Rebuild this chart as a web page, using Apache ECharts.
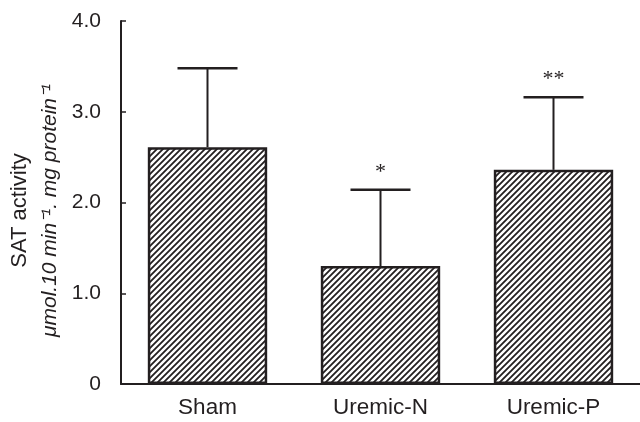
<!DOCTYPE html>
<html>
<head>
<meta charset="utf-8">
<script src="https://cdn.jsdelivr.net/npm/echarts@6/dist/echarts.min.js"></script>
<style>
html,body{margin:0;padding:0;background:#fff}
#main{width:640px;height:422px}
</style>
</head>
<body>
<div id="main"></div>
<script>
var groups = ['Sham', 'Uremic-N', 'Uremic-P'];
var means = [2.61, 1.30, 2.36];
var upperErr = [3.48, 2.14, 3.16];
var marks = ['', '*', '**'];

var ink = '#231f20';

// diagonal hatch pattern
function hatch() {
  var c = document.createElement('canvas');
  var s = 6;
  c.width = s; c.height = s;
  var g = c.getContext('2d');
  g.fillStyle = '#fff';
  g.fillRect(0, 0, s, s);
  g.strokeStyle = ink;
  g.lineWidth = 1.8;
  g.beginPath();
  g.moveTo(-1, s + 1); g.lineTo(s + 1, -1);
  g.moveTo(-1, 1); g.lineTo(1, -1);
  g.moveTo(s - 1, s + 1); g.lineTo(s + 1, s - 1);
  g.stroke();
  return c;
}

var chart = echarts.init(document.getElementById('main'), null, {renderer: 'canvas'});

var errData = [];
for (var i = 0; i < groups.length; i++) {
  errData.push([i, means[i], upperErr[i], marks[i]]);
}

var option = {
  animation: false,
  backgroundColor: '#fff',
  grid: {left: 121, right: 0, top: 21, bottom: 38},
  xAxis: {
    type: 'category',
    data: groups,
    axisLine: {lineStyle: {color: ink, width: 2}},
    axisTick: {show: false},
    axisLabel: {color: ink, fontSize: 22.5, fontFamily: 'Liberation Sans', margin: 12}
  },
  yAxis: {
    type: 'value',
    min: 0,
    max: 4,
    interval: 1,
    axisLine: {show: true, lineStyle: {color: ink, width: 2}},
    axisTick: {show: true, inside: true, length: 5, lineStyle: {color: ink, width: 1.5}},
    splitLine: {show: false},
    axisLabel: {
      color: ink, fontSize: 21, fontFamily: 'Liberation Sans', margin: 20,
      formatter: function (v) { return v === 0 ? '0' : v.toFixed(1); }
    },
    name: '{a|SAT activity}\n{b|\u03bcmol.10 min\u207b\u00b9. mg protein\u207b\u00b9}',
    nameLocation: 'middle',
    nameGap: 50,
    nameTextStyle: {
      padding: [0, 16, 0, 0],
      rich: {
        a: {fontSize: 22, fontFamily: 'Liberation Sans', color: ink, lineHeight: 30},
        b: {fontSize: 21, fontStyle: 'italic', fontFamily: 'Liberation Sans', color: ink, lineHeight: 30}
      }
    }
  },
  series: [
    {
      type: 'bar',
      data: means,
      barWidth: '69%',
      itemStyle: {
        color: {image: hatch(), repeat: 'repeat'},
        borderColor: ink,
        borderWidth: 2.5
      },
      z: 2
    },
    {
      type: 'custom',
      data: errData,
      z: 1,
      renderItem: function (params, api) {
        var base = api.coord([api.value(0), api.value(1)]);
        var top = api.coord([api.value(0), api.value(2)]);
        var half = 30;
        var children = [
          {type: 'line', shape: {x1: base[0], y1: base[1], x2: top[0], y2: top[1]},
           style: {stroke: ink, lineWidth: 2}},
          {type: 'line', shape: {x1: top[0] - half, y1: top[1], x2: top[0] + half, y2: top[1]},
           style: {stroke: ink, lineWidth: 2.5}}
        ];
        var m = api.value(3);
        if (m) {
          children.push({
            type: 'text',
            style: {
              text: m, x: top[0], y: top[1] - 18,
              align: 'center', verticalAlign: 'middle',
              fontSize: 22, fontFamily: 'Liberation Serif', fill: ink
            }
          });
        }
        return {type: 'group', children: children};
      }
    }
  ]
};

chart.setOption(option);
</script>
</body>
</html>
